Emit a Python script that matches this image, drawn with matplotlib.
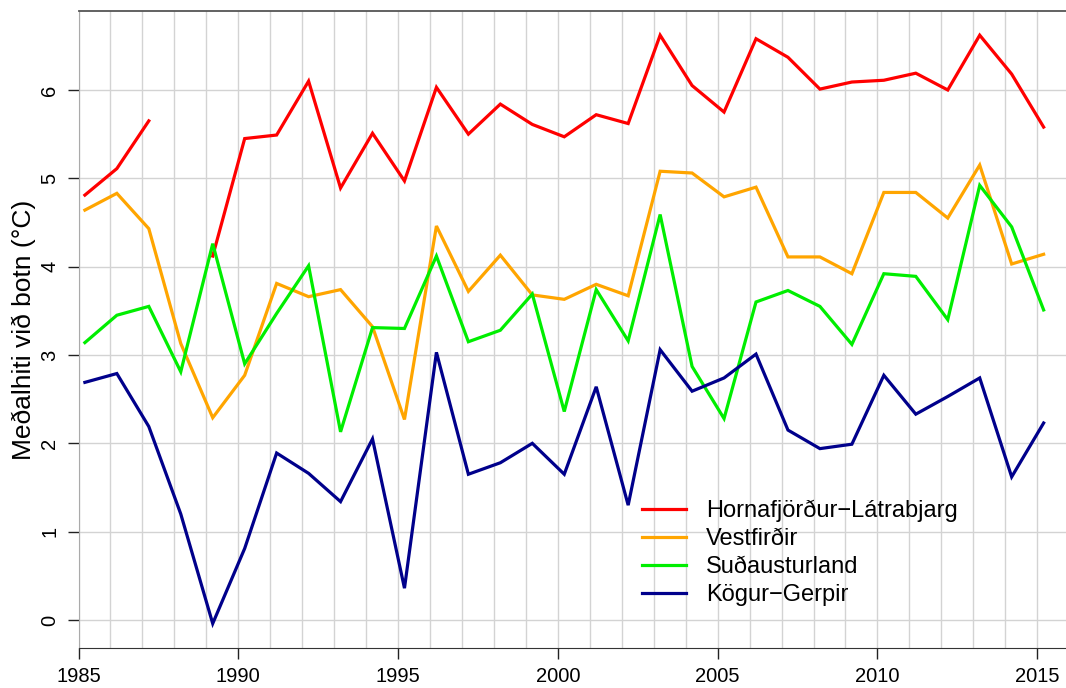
import numpy as np
import matplotlib
matplotlib.use('Agg')
import matplotlib.pyplot as plt

plt.rcParams['font.family'] = ['Liberation Sans', 'DejaVu Sans']

years = np.arange(1985, 2016)

hornafj = [4.81, 5.11, 5.65, np.nan, 4.12, 5.45, 5.49, 6.10, 4.89, 5.51,
           4.97, 6.03, 5.50, 5.84, 5.61, 5.47, 5.72, 5.62, 6.62, 6.05,
           5.75, 6.58, 6.37, 6.01, 6.09, 6.11, 6.19, 6.00, 6.62, 6.18, 5.58]
vestf = [4.64, 4.83, 4.43, 3.13, 2.29, 2.77, 3.81, 3.66, 3.74, 3.32,
         2.27, 4.46, 3.72, 4.13, 3.68, 3.63, 3.80, 3.67, 5.08, 5.06,
         4.79, 4.90, 4.11, 4.11, 3.92, 4.84, 4.84, 4.55, 5.15, 4.03, 4.14]
sudaust = [3.14, 3.45, 3.55, 2.81, 4.26, 2.90, 3.47, 4.01, 2.13, 3.31,
           3.30, 4.12, 3.15, 3.28, 3.69, 2.36, 3.74, 3.16, 4.59, 2.87,
           2.28, 3.60, 3.73, 3.55, 3.12, 3.92, 3.89, 3.40, 4.92, 4.45, 3.51]
kogur = [2.69, 2.79, 2.19, 1.20, -0.04, 0.81, 1.89, 1.66, 1.34, 2.05,
         0.36, 3.03, 1.65, 1.78, 2.00, 1.65, 2.64, 1.30, 3.06, 2.59,
         2.74, 3.01, 2.15, 1.94, 1.99, 2.77, 2.33, 2.53, 2.74, 1.62, 2.23]

names = ['Hornafjörður\u2212Látrabjarg', 'Vestfirðir', 'Suðausturland', 'Kögur\u2212Gerpir']
colors = ['#ff0000', '#ffa500', '#00ee00', '#00008b']

# measurements taken in spring, so points sit a bit after the year mark
x = years + 0.2

fig = plt.figure(figsize=(10.66, 6.88), dpi=100)
ax = fig.add_axes([78.5 / 1066, 1 - 648 / 688, 1 - 78.5 / 1066, (648 - 11) / 688])

for xv in range(1985, 2017):
    ax.axvline(xv, color='#d3d3d3', lw=1.0, zorder=0)
for yv in range(0, 7):
    ax.axhline(yv, color='#d3d3d3', lw=1.0, zorder=0)

for vals, name, c in zip([hornafj, vestf, sudaust, kogur], names, colors):
    ax.plot(x, vals, color=c, lw=2.3, label=name, solid_joinstyle='miter')

ax.set_xlim(1985, 2015.9)
ax.set_ylim(-0.317, 6.894)
ax.set_xticks(range(1985, 2016, 5))
ax.set_yticks(range(0, 7))
ax.tick_params(axis='x', length=7.7, width=1, pad=6, labelsize=14.5, color='#222222')
ax.tick_params(axis='y', length=8, width=1, pad=6, labelsize=14.5, color='#222222')
for lab in ax.get_yticklabels():
    lab.set_rotation(90)
    lab.set_va('center')
ax.spines['right'].set_visible(False)
ax.spines['top'].set_color('#555555')
ax.spines['top'].set_linewidth(1.3)
ax.spines['left'].set_color('#aaaaaa')
ax.spines['bottom'].set_color('#333333')
ax.set_ylabel('Meðalhiti við botn (°C)', fontsize=19, labelpad=3)

leg = ax.legend(loc='upper left', bbox_to_anchor=(623 / 1066, 1 - 481 / 688),
                bbox_transform=fig.transFigure, frameon=False, fontsize=17,
                handlelength=1.85, handletextpad=0.85, labelspacing=0.25,
                borderpad=0.3)

fig.savefig('out.png', dpi=100)
